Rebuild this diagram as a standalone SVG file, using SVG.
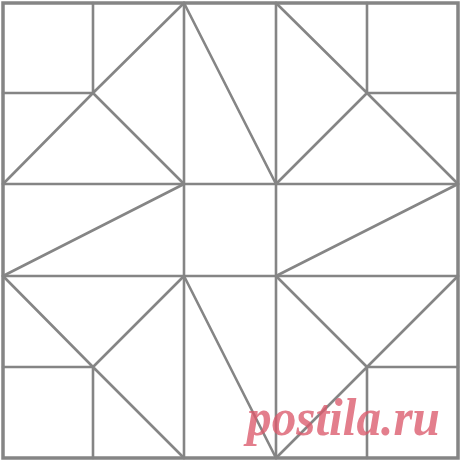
<svg xmlns="http://www.w3.org/2000/svg" width="460" height="460" viewBox="0 0 460 460">
<style>
.l{stroke:#858585;stroke-width:2.6;fill:none;stroke-linecap:round;stroke-linejoin:round}
.b{stroke:#858585;stroke-width:3.5;fill:none}
.wm{font-family:"Liberation Serif","DejaVu Serif",serif;font-weight:bold;font-style:italic;fill:#dc5a6c;opacity:0.78}
</style>
<rect width="460" height="460" fill="#ffffff"/>
<g id="block">
<rect class="b" x="3" y="3" width="455" height="455"/>
<path class="l" d="M184 3V458M276 3V458M3 184H458M3 276H458"/>
<path class="l" d="M93 3V93H3M93 93L184 3M93 93L3 184M93 93L184 184"/>
<path class="l" d="M367 3V93H458M367 93L276 3M367 93L276 184M367 93L458 184"/>
<path class="l" d="M184 3L276 184M184 184L3 276M458 184L276 276M184 276L276 458"/>
<path class="l" d="M3 367H93V458M93 367L3 276M93 367L184 458M93 367L184 276"/>
<path class="l" d="M458 367H367V458M367 367L276 276M367 367L458 276M367 367L276 458"/>
</g>
<text class="wm" x="247" y="435" font-size="52" textLength="193" lengthAdjust="spacingAndGlyphs">postila.ru</text>
</svg>
